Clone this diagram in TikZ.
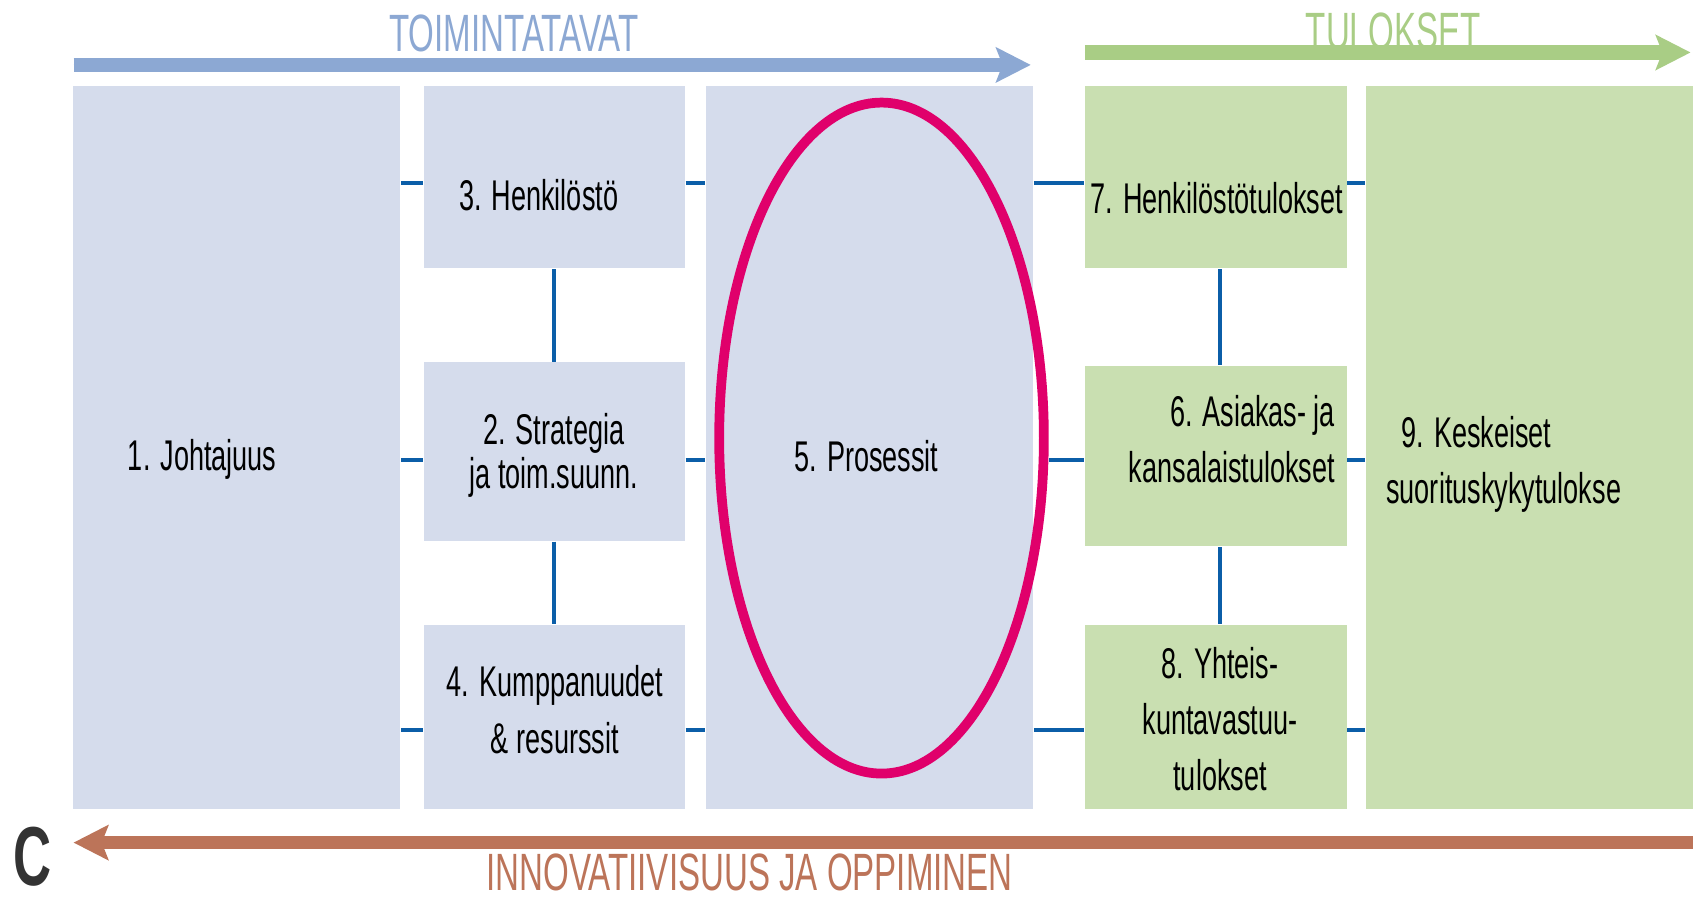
\documentclass[tikz,border=0pt]{standalone}
\usepackage{fontspec}
\setmainfont{Liberation Sans}[FakeStretch=0.63]
\usepackage{tikz}
\usetikzlibrary{positioning,shapes,arrows.meta}
\usepackage{xcolor}
\definecolor{lav}{HTML}{D5DCEC}
\definecolor{leaf}{HTML}{C9DFB1}
\definecolor{linkblue}{HTML}{0B5EA8}
\definecolor{ringred}{HTML}{E0006B}
\definecolor{topblue}{HTML}{8CA8D3}
\definecolor{topgreen}{HTML}{A9CD85}
\definecolor{rust}{HTML}{BC7459}
\definecolor{darkc}{HTML}{333333}
\tikzstyle{lavbox}=[rectangle, fill=lav, inner sep=0pt]
\tikzstyle{leafbox}=[rectangle, fill=leaf, inner sep=0pt]
\tikzstyle{boxtext}=[font=\fontsize{11.3}{14.8}\selectfont, align=center, inner sep=0pt]
\tikzstyle{headtext}=[font=\fontsize{13.8}{16}\selectfont, inner sep=0pt]
\tikzstyle{link}=[draw=linkblue, line width=0.035cm]
\tikzstyle{flow}=[line width=0.13cm, -{Stealth[length=0.32cm, width=0.32cm, inset=0.06cm]}]

\begin{document}
\begin{tikzpicture}[x=0.01cm, y=-0.01cm]
            \useasboundingbox (0,0) rectangle (1568,829);
            % boxes
            \node (1)[lavbox, minimum width=3.02cm, minimum height=6.68cm] at (219,414) {};
            \node (3)[lavbox, minimum width=2.41cm, minimum height=1.68cm] at (512.5,164) {};
            \node (2)[lavbox, minimum width=2.41cm, minimum height=1.65cm] at (512.5,417.5) {};
            \node (4)[lavbox, minimum width=2.41cm, minimum height=1.70cm] at (512.5,663) {};
            \node (5)[lavbox, minimum width=3.02cm, minimum height=6.68cm] at (804,414) {};
            \node (7)[leafbox, minimum width=2.42cm, minimum height=1.68cm] at (1124,164) {};
            \node (6)[leafbox, minimum width=2.42cm, minimum height=1.67cm] at (1124,421.5) {};
            \node (8)[leafbox, minimum width=2.42cm, minimum height=1.70cm] at (1124,663) {};
            \node (9)[leafbox, minimum width=3.02cm, minimum height=6.68cm] at (1414,414) {};
            \node (ring)[ellipse, draw=ringred, line width=0.09cm, minimum width=3.0cm, minimum height=6.2cm] at (815,405) {};

            % rows of the links
            \coordinate (r1) at (0,169);
            \coordinate (r2) at (0,425);
            \coordinate (r3) at (0,675);
            \draw[link] (1.east |- r1) -- (3.west |- r1);
            \draw[link] (3.east |- r1) -- (5.west |- r1);
            \draw[link] (5.east |- r1) -- (7.west |- r1);
            \draw[link] (7.east |- r1) -- (9.west |- r1);
            \draw[link] (1.east |- r2) -- (2.west |- r2);
            \draw[link] (2.east |- r2) -- (5.west |- r2);
            \draw[link] (ring.east |- r2) -- (6.west |- r2);
            \draw[link] (6.east |- r2) -- (9.west |- r2);
            \draw[link] (1.east |- r3) -- (4.west |- r3);
            \draw[link] (4.east |- r3) -- (5.west |- r3);
            \draw[link] (5.east |- r3) -- (8.west |- r3);
            \draw[link] (8.east |- r3) -- (9.west |- r3);
            \draw[link] (3.south) -- (2.north);
            \draw[link] (2.south) -- (4.north);
            \draw[link] ([xshift=0.04cm]7.south) -- ([xshift=0.04cm]6.north);
            \draw[link] ([xshift=0.04cm]6.south) -- ([xshift=0.04cm]8.north);

            % texts
            \node (t1)[boxtext] at (187,425) {1. Johtajuus};
            \node (t3)[boxtext] at (498,180) {3. Henkilöstö};
            \node (t2)[boxtext, font=\fontsize{11.3}{10.5}\selectfont] at (512,421) {2. Strategia\\ja toim.suunn.};
            \node (t4)[boxtext] at (513,656) {4. Kumppanuudet\\\& resurssit};
            \node (t5)[boxtext] at (801,422) {5. Prosessit};
            \node (t7)[boxtext] at (1125,183) {7. Henkilöstötulokset};
            \node (t6)[boxtext, align=right, anchor=east] at (1235,406) {6. Asiakas- ja\\kansalaistulokset};
            \node (t8)[boxtext] at (1128,665) {8. Yhteis-\\kuntavastuu-\\tulokset};
            \node (t9)[boxtext, align=left, anchor=west] at (1281,429) {\hspace{0.14cm}9. Keskeiset\\suorituskykytulokse};

            % the three arrows
            \node (toim)[headtext, text=topblue] at (475,31) {TOIMINTATAVAT};
            \node (tul)[headtext, text=topgreen] at (1288,29) {TULOKSET};
            \node (inno)[headtext, text=rust] at (693,807) {INNOVATIIVISUUS JA OPPIMINEN};
            \coordinate (a1) at (68,60);
            \coordinate (a2) at (953,60);
            \coordinate (b1) at (1003,48.5);
            \coordinate (b2) at (1563,48.5);
            \coordinate (c1) at (1565,779);
            \coordinate (c2) at (68,779);
            \draw[flow, draw=topblue, fill=topblue] (a1) -- (a2);
            \draw[flow, draw=topgreen, fill=topgreen] (b1) -- (b2);
            \draw[flow, line width=0.12cm, draw=rust, fill=rust] (c1) -- (c2);
            \node (c)[font=\fontsize{22}{22}\selectfont\bfseries, text=darkc, inner sep=0pt] at (30,792) {C};
        \end{tikzpicture}
\end{document}
